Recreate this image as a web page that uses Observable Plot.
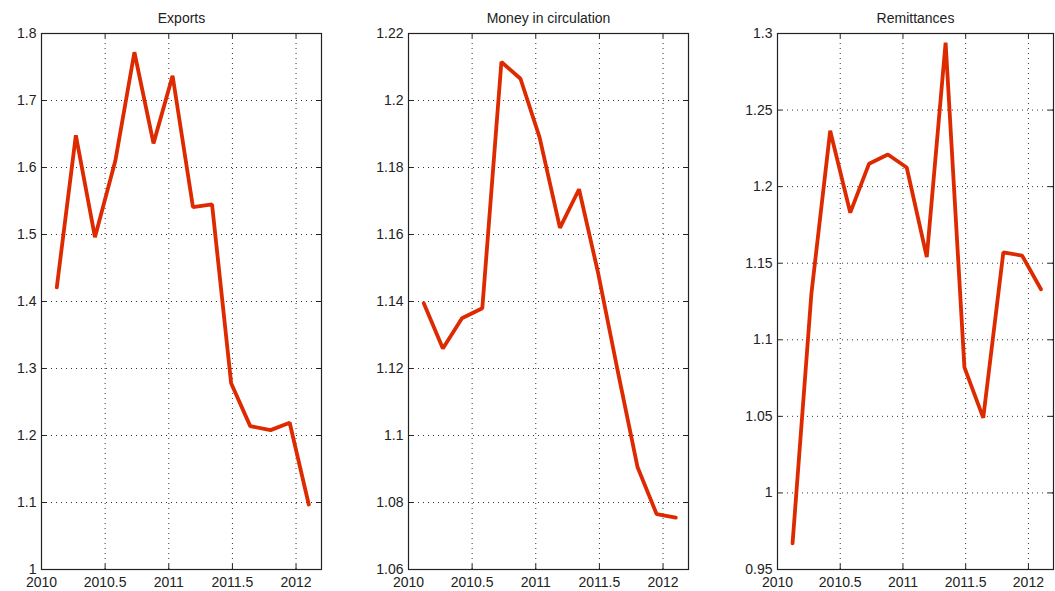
<!DOCTYPE html>
<html>
<head>
<meta charset="utf-8">
<script src="https://cdn.jsdelivr.net/npm/d3@7"></script>
<script src="https://cdn.jsdelivr.net/npm/@observablehq/plot@0.6"></script>
<style>
  html, body { margin: 0; padding: 0; background: #fff; }
  #wrap { position: relative; width: 1055px; height: 591px; overflow: hidden; }
  .panel { position: absolute; top: 0; }
</style>
</head>
<body>
<div id="wrap"></div>
<script>
// Data
const dates = [2010.12, 2010.27, 2010.42, 2010.58, 2010.73, 2010.88, 2011.03, 2011.19, 2011.34, 2011.49, 2011.64, 2011.80, 2011.95, 2012.10];
const exportsVals = [1.421, 1.648, 1.496, 1.61, 1.772, 1.636, 1.737, 1.541, 1.545, 1.278, 1.214, 1.208, 1.219, 1.097];
const moneyVals = [1.1395, 1.126, 1.135, 1.138, 1.2115, 1.2065, 1.189, 1.162, 1.1735, 1.1485, 1.120, 1.0905, 1.0765, 1.0755];
const remitVals = [0.967, 1.13, 1.2365, 1.183, 1.215, 1.221, 1.2125, 1.154, 1.294, 1.082, 1.049, 1.157, 1.155, 1.133];

const titles = ["Exports", "Money in circulation", "Remittances"];
const xTicks = [2010, 2010.5, 2011, 2011.5, 2012];
const exportsTicks = [1, 1.1, 1.2, 1.3, 1.4, 1.5, 1.6, 1.7, 1.8];
const moneyTicks = [1.06, 1.08, 1.1, 1.12, 1.14, 1.16, 1.18, 1.2, 1.22];
const remitTicks = [0.95, 1, 1.05, 1.1, 1.15, 1.2, 1.25, 1.3];

const panels = [
  {title: titles[0], values: exportsVals, ticks: exportsTicks, left: 0, ml: 41, mr: 19},
  {title: titles[1], values: moneyVals, ticks: moneyTicks, left: 360, ml: 48, mr: 12},
  {title: titles[2], values: remitVals, ticks: remitTicks, left: 715, ml: 62, mr: 2}
];

const W = 340, H = 591, MT = 33, MB = 22;
const fmt = d3.format("~g");
const wrap = document.getElementById("wrap");

for (const p of panels) {
  const data = dates.map((d, i) => ({x: d, y: p.values[i]}));
  const pw = W - p.ml - p.mr;
  const ph = H - MT - MB;
  const yDom = [p.ticks[0], p.ticks[p.ticks.length - 1]];
  const chart = Plot.plot({
    width: W,
    height: H,
    marginLeft: p.ml,
    marginRight: p.mr,
    marginTop: MT,
    marginBottom: MB,
    style: {fontFamily: "'Liberation Sans', Arial, sans-serif", fontSize: "14px", color: "#222", background: "transparent", overflow: "visible"},
    x: {domain: [2010, 2012.2], label: null},
    y: {domain: yDom, label: null},
    marks: [
      // dotted grid
      Plot.ruleY(p.ticks, {stroke: "#333", strokeWidth: 1, strokeDasharray: "1 4"}),
      Plot.ruleX(xTicks, {stroke: "#333", strokeWidth: 1, strokeDasharray: "1 4"}),
      // inward ticks on all four sides
      Plot.ruleY(p.ticks, {stroke: "#222", insetRight: pw - 5}),
      Plot.ruleY(p.ticks, {stroke: "#222", insetLeft: pw - 5}),
      Plot.ruleX(xTicks, {stroke: "#222", insetTop: ph - 5}),
      Plot.ruleX(xTicks, {stroke: "#222", insetBottom: ph - 5}),
      Plot.axisY(p.ticks, {tickSize: 0, tickPadding: 5, tickFormat: fmt, fontSize: 14, label: null}),
      Plot.axisX(xTicks, {tickSize: 0, tickPadding: 8, tickFormat: fmt, fontSize: 14, label: null}),
      Plot.frame({stroke: "#222", strokeWidth: 1.2}),
      Plot.line(data, {x: "x", y: "y", stroke: "#dd2a00", strokeWidth: 3.8, strokeLinejoin: "miter"}),
      Plot.text([p.title], {frameAnchor: "top", dy: -20, fontSize: 14, fill: "#222"})
    ]
  });
  chart.classList.add("panel");
  chart.style.left = p.left + "px";
  wrap.appendChild(chart);
}
</script>
</body>
</html>
